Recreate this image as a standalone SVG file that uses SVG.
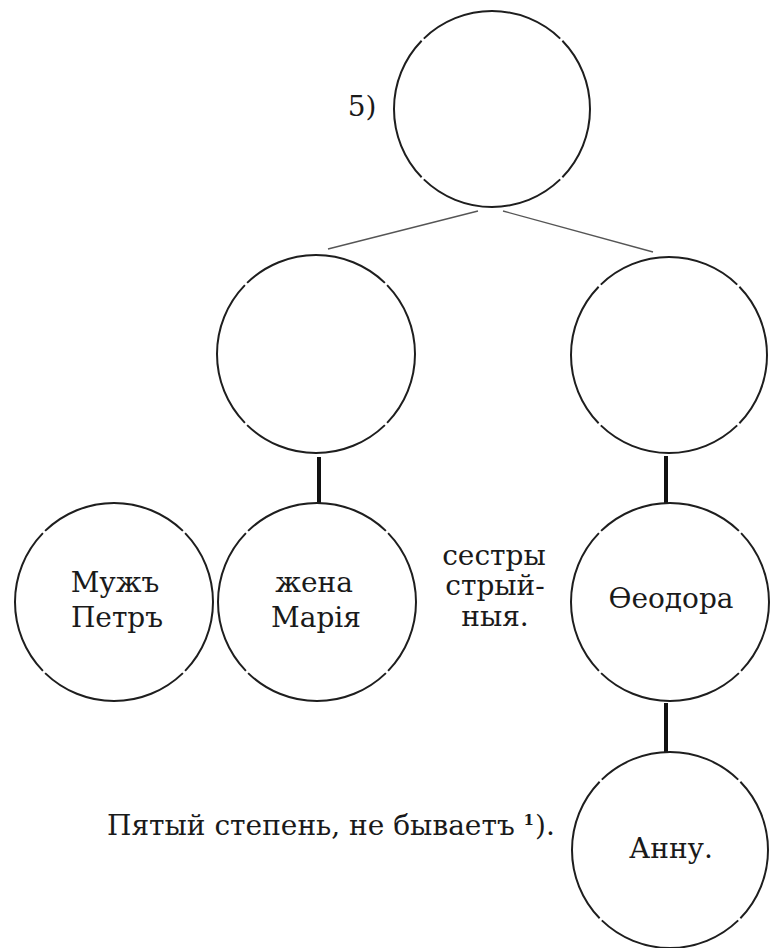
<svg xmlns="http://www.w3.org/2000/svg" width="774" height="948" viewBox="0 0 774 948">
  <style>
    .node circle { fill: none; stroke: #1e1e1e; stroke-width: 2; stroke-dasharray: 98 2; stroke-dashoffset: 49; }
    .lbl { font-family: "DejaVu Serif", "Liberation Serif", serif; font-size: 28px; fill: #1a1a1a; text-anchor: middle; }
    .thin { stroke: #555; stroke-width: 1.3; fill: none; }
    .thick { stroke: #111; stroke-width: 4; fill: none; }
  </style>
  <rect width="774" height="948" fill="#ffffff"/>

  <g id="connectors">
    <path class="thin" d="M478,211 L328,249"/>
    <path class="thin" d="M503,211 L653,252"/>
    <path class="thick" d="M319,457 L319,503"/>
    <path class="thick" d="M666,456 L666,503"/>
    <path class="thick" d="M666,703 L666,752"/>
  </g>

  <g id="top" class="node">
    <circle cx="492" cy="109" r="98" pathLength="400"/>
  </g>
  <text id="label-5" class="lbl" x="362" y="116" font-size="29">5)</text>

  <g id="mid-left" class="node">
    <circle cx="316" cy="354" r="99" pathLength="400"/>
  </g>
  <g id="mid-right" class="node">
    <circle cx="669" cy="355" r="98" pathLength="400"/>
  </g>

  <g id="muzh-petr" class="node">
    <circle cx="114" cy="602" r="99" pathLength="400"/>
    <text class="lbl" x="115" y="592">Мужъ</text>
    <text class="lbl" x="117" y="627">Петръ</text>
  </g>

  <g id="zhena-mariya" class="node">
    <circle cx="317" cy="602" r="99" pathLength="400"/>
    <text class="lbl" x="314" y="592">жена</text>
    <text class="lbl" x="316" y="627">Марія</text>
  </g>

  <g id="sestry-note">
    <text class="lbl" x="494" y="565" font-size="26">сестры</text>
    <text class="lbl" x="495" y="595" font-size="26">стрый-</text>
    <text class="lbl" x="495" y="626" font-size="26">ныя.</text>
  </g>

  <g id="feodora" class="node">
    <circle cx="670" cy="602" r="99" pathLength="400"/>
    <text class="lbl" x="671" y="608">Ѳеодора</text>
  </g>

  <g id="annu" class="node">
    <circle cx="670" cy="850" r="98" pathLength="400"/>
    <text class="lbl" x="671" y="858">Анну.</text>
  </g>

  <g id="caption">
    <text class="lbl" x="107" y="835" style="text-anchor:start" font-size="25" font-weight="normal">Пятый степень, не бываетъ <tspan font-size="15" font-weight="bold" dy="-10">1</tspan><tspan dy="10" dx="1">).</tspan></text>
  </g>
</svg>
